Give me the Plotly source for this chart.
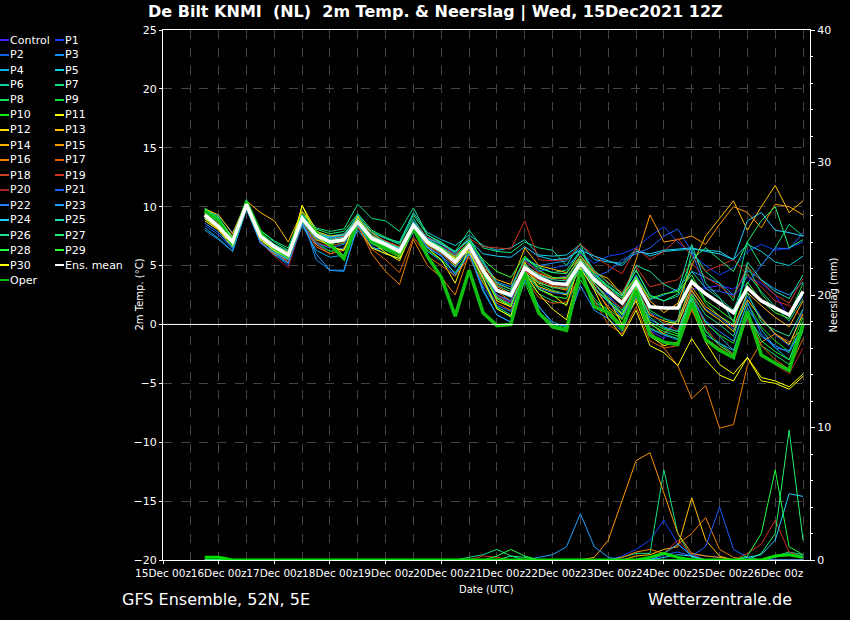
import pandas as pd
import plotly.graph_objects as go

times = pd.date_range("2021-12-15 18:00", periods=44, freq="6h")

ens_mean = [9.3,8.3,7.0,10.2,7.5,6.6,5.9,9.0,7.6,7.0,7.2,8.7,7.3,6.8,6.2,8.4,7.0,6.3,5.3,6.7,4.6,2.9,2.5,4.8,4.0,3.5,3.4,5.2,3.8,2.8,1.8,3.6,1.5,1.4,1.4,3.6,2.6,1.8,1.0,3.1,2.0,1.4,0.8,2.8]
oper = [9.6,8.8,6.8,10.4,7.8,6.5,5.8,9.0,7.8,6.8,5.6,8.8,7.0,6.5,6.0,8.2,5.8,4.0,0.7,4.6,1.0,-0.1,0.0,4.4,1.0,-0.2,-0.5,4.6,1.5,1.0,-0.3,2.9,-0.9,-1.5,-1.7,1.8,-1.3,-2.2,-2.8,1.1,-2.6,-3.3,-3.9,0.0]

t_control = [9.5,8.6,7.2,10.4,7.6,6.5,5.7,8.8,7.4,7.2,7.4,8.9,7.5,6.9,6.0,8.3,6.8,6.1,5.0,6.5,4.3,2.4,1.9,4.5,3.8,3.6,3.5,5.0,3.2,2.5,1.2,3.0,-0.5,-1.2,0.5,3.0,3.1,3.3,3.0,4.0,3.5,2.5,0.6,2.5]
t_p1 = [9.0,8.0,6.8,10.0,7.3,6.4,5.5,8.6,7.7,7.4,7.6,8.4,7.0,6.6,6.3,8.6,7.4,6.8,5.8,7.0,5.2,3.5,3.0,5.5,4.5,4.8,5.0,6.0,5.2,5.8,6.0,6.5,7.5,8.3,7.0,6.0,5.0,4.2,4.8,6.2,6.8,6.3,6.5,7.0]
t_p2 = [8.4,7.6,6.4,10.5,7.0,6.0,5.0,8.5,6.8,6.2,6.5,8.6,7.1,6.5,6.0,8.1,6.8,5.9,4.2,6.0,3.2,1.5,0.8,4.6,4.2,3.9,4.1,5.6,4.2,2.5,0.8,2.6,1.0,0.5,0.2,2.8,1.3,0.6,-0.4,2.4,0.6,-0.9,-1.8,1.2]
t_p3 = [9.7,9.2,7.8,10.0,7.8,6.8,6.1,9.2,5.5,4.6,4.5,8.5,6.5,6.4,6.2,8.8,7.4,6.9,6.0,7.2,5.4,3.6,3.2,5.5,5.0,5.2,5.4,6.5,4.5,3.0,2.2,4.2,2.1,2.5,3.0,4.5,4.0,3.5,2.5,4.6,3.8,3.0,2.5,3.6]
t_p4 = [8.2,7.3,6.2,9.8,7.0,5.9,5.2,8.4,6.3,5.7,5.9,8.0,6.6,6.0,5.6,7.9,6.2,5.4,4.1,6.1,2.8,0.8,0.2,4.4,1.5,0.2,-0.2,4.5,2.0,0.8,-0.3,3.0,-0.8,-1.5,-1.7,2.2,0.2,-1.0,-2.2,1.4,-0.4,-2.0,-3.0,-0.6]
t_p5 = [9.1,8.2,6.8,10.1,7.4,6.3,5.8,9.1,7.8,7.3,7.5,9.3,7.8,7.3,7.0,9.5,7.8,7.2,6.7,7.6,6.7,6.3,6.5,7.2,5.9,5.8,5.9,6.8,5.5,5.3,5.2,6.4,5.8,6.2,6.3,6.4,6.3,6.2,5.5,6.8,6.2,5.3,5.0,5.8]
t_p6 = [9.0,8.1,6.9,10.3,7.6,6.7,6.0,9.3,7.9,7.5,7.7,9.1,7.9,7.3,6.8,9.0,7.2,6.5,5.6,7.0,5.1,3.3,2.8,5.7,4.9,4.4,4.6,6.3,4.3,3.3,2.4,4.6,2.5,2.0,2.4,4.5,3.1,2.2,1.2,4.3,2.8,1.5,0.3,2.2]
t_p7 = [9.9,9.1,7.3,10.5,8.0,7.1,6.5,9.6,8.2,7.9,8.1,10.2,9.0,8.8,7.9,9.9,7.6,6.9,6.2,8.0,6.5,6.2,6.1,7.0,6.5,6.3,5.0,6.9,3.5,2.0,0.5,4.0,1.0,0.0,0.3,6.3,4.5,3.5,2.0,7.0,5.0,6.5,8.5,7.5]
t_p8 = [9.2,8.3,6.7,10.0,7.3,6.4,5.9,9.0,7.5,6.9,7.0,8.7,7.1,6.6,6.1,8.2,6.9,6.2,4.9,6.5,4.0,1.5,0.8,4.0,2.6,2.0,1.7,4.2,2.2,1.1,0.0,2.6,-0.3,-0.8,-1.2,2.0,-0.5,-1.6,-2.5,0.8,-1.8,-2.6,-3.4,-0.5]
t_p9 = [9.6,8.8,7.1,10.4,7.7,6.5,6.2,9.2,7.2,6.7,6.9,8.9,7.5,7.0,6.5,8.6,7.2,6.6,5.5,6.8,4.8,2.9,2.4,5.1,3.4,2.9,2.6,5.6,3.4,2.3,1.2,4.1,1.2,0.5,0.0,3.9,1.8,0.7,0.0,5.0,2.6,1.2,0.8,3.5]
t_p10 = [9.4,8.5,6.8,10.3,7.6,6.3,5.6,8.9,7.0,6.2,6.4,8.6,7.0,6.3,5.7,8.1,6.3,5.5,4.4,6.2,3.6,1.4,0.6,3.6,0.8,0.0,-0.3,3.8,1.9,1.3,0.4,3.2,0.2,-0.4,-0.8,2.5,0.1,-0.9,-1.6,1.8,-0.2,-1.4,-2.3,0.6]
t_p11 = [8.8,8.0,6.5,10.2,7.0,6.0,5.5,10.1,8.0,7.0,5.8,8.3,6.5,6.0,5.6,8.6,6.5,5.5,3.5,6.6,4.5,2.0,1.5,5.3,3.0,2.5,1.6,5.5,3.5,2.2,0.0,2.0,-1.0,-1.8,-1.5,1.4,-1.5,-3.4,-4.2,-2.8,-4.8,-5.0,-5.5,-4.4]
t_p12 = [9.5,8.7,7.3,10.2,7.4,6.3,5.7,8.9,7.3,6.9,7.1,8.8,7.0,6.5,6.0,8.2,6.7,6.0,5.0,6.5,4.2,2.2,1.5,4.5,3.2,2.8,2.5,4.8,3.0,1.9,0.9,3.0,0.8,0.3,0.0,2.9,1.2,0.4,-0.6,2.1,0.5,-0.8,-1.7,0.9]
t_p13 = [9.8,9.3,7.7,10.5,9.5,8.8,7.0,9.6,7.9,7.5,7.6,9.0,7.8,7.0,6.4,8.5,7.1,6.4,5.7,6.8,4.9,3.8,3.4,6.5,5.0,4.7,4.4,5.8,4.4,3.9,2.5,4.0,2.0,1.0,1.8,5.0,7.5,9.0,10.5,8.0,10.0,11.8,9.5,10.5]
t_p14 = [9.6,8.9,7.0,10.1,7.5,6.6,6.0,8.8,7.2,6.8,7.2,8.9,7.2,6.5,5.8,8.0,6.6,6.1,5.4,6.3,4.1,2.5,2.0,4.6,3.5,3.2,2.9,5.2,3.2,1.3,-0.2,2.2,0.1,-0.8,0.4,3.2,1.5,0.7,-0.2,2.7,1.6,0.6,-0.2,2.0]
t_p15 = [9.3,8.8,7.5,10.3,7.7,6.7,6.1,9.0,7.6,7.1,7.3,8.7,7.5,7.0,6.6,8.6,7.1,6.5,5.7,6.9,4.8,3.2,2.6,5.0,4.3,3.9,4.0,5.6,4.0,3.0,2.0,5.5,9.3,7.0,7.2,7.5,6.8,8.5,10.0,9.5,8.2,10.2,10.0,9.3]
t_p16 = [9.0,8.0,6.9,10.0,7.2,6.2,5.3,8.7,6.8,6.0,6.3,8.5,6.0,4.5,3.4,7.2,5.0,4.0,2.5,6.0,4.5,2.8,2.0,4.6,3.7,3.3,3.0,5.3,3.0,1.5,0.5,3.2,-0.5,-2.0,-3.5,-6.3,-5.2,-8.8,-8.5,-3.5,-1.5,-0.8,-1.5,-0.3]
t_p17 = [9.2,8.4,6.6,9.9,7.1,6.0,5.5,8.6,6.6,6.0,6.4,8.3,6.4,5.5,4.4,7.4,5.8,5.0,4.1,5.7,3.5,1.8,1.2,3.9,2.3,1.8,1.9,4.3,2.0,0.0,-0.8,1.5,-1.4,-2.0,-1.8,1.2,-1.2,-2.0,-2.7,1.0,-1.8,-3.0,-3.8,-1.2]
t_p18 = [9.4,8.6,7.0,10.2,7.5,6.5,5.6,8.9,7.6,7.1,7.3,8.6,7.2,6.8,6.2,8.3,6.9,6.4,5.8,6.9,5.0,3.4,3.0,5.4,4.4,4.0,3.8,5.9,4.5,3.6,2.7,4.9,3.2,3.5,3.8,5.2,4.0,3.3,2.3,4.9,3.7,2.5,1.8,3.9]
t_p19 = [9.1,8.2,6.7,10.3,7.4,6.4,5.8,9.0,7.7,7.2,7.5,9.0,7.6,7.1,6.6,8.7,7.4,6.8,5.9,7.3,6.6,6.5,6.4,8.8,5.5,5.4,5.5,6.8,5.8,5.0,4.3,6.5,5.5,6.2,7.3,5.8,4.5,5.0,5.5,4.2,3.2,2.0,1.6,0.6]
t_p20 = [9.3,8.5,6.8,10.2,7.0,5.8,4.8,8.6,7.0,6.6,7.0,8.5,7.2,6.6,6.0,8.1,6.7,6.0,5.1,6.5,4.2,2.4,1.8,4.6,3.8,3.3,3.2,5.1,3.4,2.2,1.4,3.3,0.9,0.2,-0.5,2.8,-0.2,-1.8,-2.5,0.5,-2.6,-3.4,-4.2,-2.0]
t_p21 = [9.2,8.7,7.1,10.1,7.5,6.4,5.7,8.8,7.3,6.9,7.2,8.8,7.4,6.9,6.3,8.5,7.0,6.4,5.4,6.7,4.6,2.5,2.0,4.9,4.1,3.6,3.5,5.4,4.0,4.5,5.5,6.0,6.5,7.5,8.1,6.2,3.0,2.8,2.5,3.5,5.0,6.5,6.4,7.8]
t_p22 = [8.6,7.8,6.5,9.9,7.0,6.1,5.2,8.5,6.9,6.5,6.8,8.4,7.0,6.4,5.9,8.1,6.6,5.8,4.8,6.3,3.9,1.6,1.1,4.2,3.1,2.7,2.6,4.9,3.0,1.9,0.6,2.8,0.4,-0.2,-0.6,2.2,0.3,-0.6,-1.4,1.9,-0.8,-2.0,-2.2,-0.4]
t_p23 = [8.0,7.2,6.2,9.8,6.9,6.1,5.5,8.7,6.0,4.6,4.6,8.4,6.8,6.4,6.0,8.3,6.5,5.8,4.3,6.0,3.0,0.8,0.2,3.8,1.6,0.0,-0.1,3.3,1.2,0.5,-0.6,2.4,-0.4,-0.9,-1.3,1.5,-0.9,-1.6,-2.2,0.6,-1.0,-1.8,-2.4,0.0]
t_p24 = [9.0,8.3,6.9,10.2,7.5,6.5,6.0,9.1,7.8,7.4,7.6,8.9,7.4,7.0,6.4,8.6,7.3,6.8,6.2,7.2,6.0,5.8,5.7,6.6,5.8,5.5,5.6,6.3,5.8,5.4,5.0,6.2,6.0,6.3,6.4,6.5,6.2,6.0,5.5,8.8,9.5,8.0,7.8,7.5]
t_p25 = [9.5,8.8,7.2,10.5,7.8,6.8,6.2,9.2,7.8,7.2,7.4,9.0,7.6,7.0,6.5,8.7,7.2,6.6,5.8,7.0,4.8,2.8,2.3,5.1,4.2,3.8,3.7,5.5,4.0,3.2,2.4,5.0,4.5,3.4,2.8,6.8,3.5,2.3,0.2,5.3,3.8,2.8,2.2,4.2]
t_p26 = [9.1,8.2,6.6,10.0,7.2,6.2,5.6,8.7,7.4,6.9,7.1,8.6,7.1,6.6,6.0,8.2,6.8,6.1,5.2,6.6,4.4,2.3,1.7,4.3,3.6,3.1,3.1,4.9,3.5,2.1,1.0,3.3,0.6,-0.3,-0.6,2.6,0.8,0.0,-1.0,2.7,0.2,-0.5,-1.0,1.3]
t_p27 = [9.7,9.0,7.4,10.6,8.0,7.0,6.3,9.4,8.1,7.7,7.9,9.4,8.0,7.4,6.9,9.3,7.6,7.0,6.1,7.4,5.3,3.5,3.0,5.6,4.8,4.4,4.3,6.2,4.6,3.5,2.6,4.6,2.4,2.0,2.6,5.5,6.5,5.5,4.5,7.0,8.8,10.0,6.5,7.2]
t_p28 = [9.8,9.0,7.1,10.3,7.7,6.6,5.9,9.0,7.6,7.0,7.1,8.7,7.3,6.8,6.3,8.5,7.0,6.3,5.2,6.9,4.3,2.2,1.6,4.4,3.0,2.4,2.2,5.3,3.1,2.0,0.8,3.3,0.0,-0.6,-1.0,2.3,-0.6,-1.8,-2.6,1.0,-1.4,-2.3,-3.0,0.2]
t_p29 = [9.3,8.4,6.9,10.1,7.4,6.5,5.8,8.9,7.5,7.0,7.2,8.8,7.4,6.9,6.3,8.4,7.1,6.5,5.6,7.1,5.5,4.5,4.0,5.8,4.6,4.0,3.9,5.8,4.2,3.2,2.2,4.0,2.2,2.6,2.8,4.2,2.0,1.2,0.3,3.6,2.0,1.0,0.5,2.6]
t_p30 = [9.0,8.1,6.7,9.9,7.2,6.3,5.7,10.1,7.5,6.6,6.3,9.2,7.0,6.1,5.4,8.2,6.8,6.2,5.6,6.2,3.9,1.3,0.7,4.4,2.6,1.3,0.4,4.8,2.9,0.5,-1.0,1.2,-1.8,-2.4,-3.5,-1.2,-3.0,-4.3,-4.8,-2.8,-4.5,-4.8,-5.3,-4.2]

# precipitation (mm) for members with visible rain
r_oper = [0.2,0.2,0.0,0,0,0,0,0,0,0,0,0,0,0,0,0,0,0,0,0,0,0,0,0,0,0,0,0,0,0,0,0,0.2,0.5,0.2,0,0,0,0,0,0,0.3,0.4,0.2]
r_p1 = [0,0,0,0,0,0,0,0,0,0,0,0,0,0,0,0,0,0,0,0,0,0,0,0,0,0,0,0,0,0,0.3,0.8,1.5,3.0,1.2,0.4,0.3,0.2,0,0,0,0.2,0.5,0.3]
r_p7 = [0,0,0,0,0,0,0,0,0,0,0,0,0,0,0,0,0,0,0,0.2,0.4,0.8,0.3,0,0,0,0,0,0,0,0.2,0.5,0.5,6.8,2.0,0.2,0,0,0,0,0,0.3,0.6,0.4]
r_p13 = [0,0,0,0,0,0,0,0,0,0,0,0,0,0,0,0,0,0,0,0,0,0,0,0,0,0,0,0,0,0,0,0.3,0.4,0.8,1.0,4.7,1.5,0.3,0,0,0,0,0,0]
r_p15 = [0,0,0,0,0,0,0,0,0,0,0,0,0,0,0,0,0,0,0,0,0,0,0,0,0,0,0,0,0.2,1.5,4.5,7.5,8.1,5.0,2.0,0.5,0.3,0.2,0,0,0,0,0,0]
r_p16 = [0,0,0,0,0,0,0,0,0,0,0,0,0,0,0,0,0,0,0,0,0,0,0,0,0,0,0,0,0,0,0.2,0.6,0.8,0.5,1.2,2.0,3.2,0.8,0.2,0,0,0,0,0]
r_p19 = [0,0,0,0,0,0,0,0,0,0,0,0,0,0,0,0,0,0,0,0,0.3,0.2,0,0,0,0,0,0,0,0,0,0,0,0.5,1.5,0.4,0,0,0,0.5,1.2,3.0,0.6,0.2]
r_p21 = [0,0,0,0,0,0,0,0,0,0,0,0,0,0,0,0,0,0,0,0,0,0,0,0,0,0,0,0,0,0,0,0,0,0.4,0.6,0.3,1.0,4.0,0.8,0.2,0,0,0,0]
r_p23 = [0,0,0,0,0,0,0,0,0,0,0,0,0,0,0,0,0,0,0,0,0,0,0,0,0.2,0.4,1.0,3.5,1.0,0.2,0,0,0,0.5,1.2,0.3,0,0,0,0,0,0,0,0]
r_p24 = [0,0,0,0,0,0,0,0,0,0,0,0,0,0,0,0,0,0,0,0,0,0,0,0,0,0,0,0,0,0,0,0,0,0.2,0.4,0.3,0,0,0,0.2,0.4,1.5,5.0,4.8]
r_p27 = [0,0,0,0,0,0,0,0,0,0,0,0,0,0,0,0,0,0,0,0,0,0,0.3,0.2,0,0,0,0,0,0,0,0,0,0,0,0,0,0,0,0,0.5,2.0,9.8,1.5]
r_p28 = [0,0,0,0,0,0,0,0,0,0,0,0,0,0,0,0,0,0,0,0,0,0.3,0.8,0.3,0,0,0,0,0,0,0,0,0,0,0,0,0,0,0,0.3,2.0,6.8,1.0,0.4]

member_names = ["Control"] + ["P%d" % i for i in range(1, 31)]
member_colors = ["#4020ff", "#1040ff", "#1060f0", "#1090ff", "#10b0e0", "#10d0e0", "#10d0a0",
                 "#10e080", "#10e060", "#10e040", "#10f010", "#ffff00", "#ffe000", "#ffc000",
                 "#ffb000", "#ff9900", "#f08000", "#e06000", "#d04020", "#d03020", "#b02020",
                 "#2060ff", "#2080ff", "#20a0ff", "#20d0ff", "#20e0b0", "#20e090", "#20f070",
                 "#20ff40", "#30ff30", "#ffff00"]
temps = [t_control, t_p1, t_p2, t_p3, t_p4, t_p5, t_p6, t_p7, t_p8, t_p9, t_p10, t_p11, t_p12,
         t_p13, t_p14, t_p15, t_p16, t_p17, t_p18, t_p19, t_p20, t_p21, t_p22, t_p23, t_p24,
         t_p25, t_p26, t_p27, t_p28, t_p29, t_p30]
rain = {1: r_p1, 7: r_p7, 13: r_p13, 15: r_p15, 16: r_p16, 19: r_p19, 21: r_p21,
        23: r_p23, 24: r_p24, 27: r_p27, 28: r_p28}

fig = go.Figure()

# precipitation on the right axis
for i, r in rain.items():
    fig.add_trace(go.Scatter(x=times, y=r, yaxis="y2", mode="lines",
                             line=dict(color=member_colors[i], width=1), showlegend=False))
fig.add_trace(go.Scatter(x=times, y=r_oper, yaxis="y2", mode="lines",
                         line=dict(color="#00dd00", width=3), showlegend=False))

# temperatures
for name, t, c in zip(member_names, temps, member_colors):
    fig.add_trace(go.Scatter(x=times, y=t, mode="lines", name=name,
                             line=dict(color=c, width=1), showlegend=False))
fig.add_trace(go.Scatter(x=times, y=oper, mode="lines", line=dict(color="#10c010", width=3.5),
                         showlegend=False))
fig.add_trace(go.Scatter(x=times, y=ens_mean, mode="lines", line=dict(color="white", width=3.5),
                         showlegend=False))

W, L, R, T, B = 850, 163, 40, 30, 60
pw = W - L - R
ph = 620 - T - B

def px(x):
    return (x - L) / pw

def py(y):
    return 1 - (y - T) / ph

ann = []
shapes = [dict(type="line", xref="paper", yref="y", x0=0, x1=1, y0=0, y1=0,
               line=dict(color="white", width=1))]
legend_items = list(zip(member_names, member_colors)) + [("Ens. mean", "white"), ("Oper", "#10c010")]
for k, (n, c) in enumerate(legend_items):
    row, col = divmod(k, 2)
    yp = py(40 + 15 * row)
    xl = 0 if col == 0 else 55
    shapes.append(dict(type="line", xref="paper", yref="paper", x0=px(xl), x1=px(xl + 9),
                       y0=yp, y1=yp, line=dict(color=c, width=2)))
    ann.append(dict(x=px(xl + 8), y=yp, xref="paper", yref="paper", text=n, showarrow=False,
                    xanchor="left", yanchor="middle", font=dict(size=11, color="white")))

ann += [
    dict(x=px(435), y=py(12), xref="paper", yref="paper", showarrow=False, yanchor="middle",
         text="<b>De Bilt KNMI  (NL)  2m Temp. & Neerslag | Wed, 15Dec2021 12Z</b>",
         font=dict(size=16, color="white")),
    dict(x=px(120), y=py(599), xref="paper", yref="paper", xanchor="left", yanchor="middle",
         showarrow=False, text="GFS Ensemble, 52N, 5E", font=dict(size=16, color="white")),
    dict(x=px(794), y=py(599), xref="paper", yref="paper", xanchor="right", yanchor="middle",
         showarrow=False, text="Wetterzentrale.de", font=dict(size=16, color="white")),
    dict(x=px(486), y=py(589), xref="paper", yref="paper", showarrow=False, yanchor="middle",
         text="Date (UTC)", font=dict(size=10, color="white")),
    dict(x=px(131), y=0.5, xref="paper", yref="paper", showarrow=False, textangle=-90,
         text="2m Temp. (°C)", font=dict(size=10, color="white")),
    dict(x=px(840), y=0.5, xref="paper", yref="paper", showarrow=False, textangle=-90,
         text="Neerslag (mm)", font=dict(size=10, color="white")),
]

tickvals = pd.date_range("2021-12-15", "2021-12-26", freq="D")
fig.update_layout(
    width=850, height=620, paper_bgcolor="black", plot_bgcolor="black",
    margin=dict(l=L, r=R, t=T, b=B),
    font=dict(family="DejaVu Sans", color="white", size=11),
    showlegend=False, annotations=ann, shapes=shapes,
    xaxis=dict(range=["2021-12-15 00:00", "2021-12-26 15:00"], tickvals=tickvals,
               ticktext=[d.strftime("%dDec 00z") for d in tickvals], tickangle=0,
               automargin=False,
               showgrid=True, gridcolor="#444", griddash="dash", gridwidth=1,
               minor=dict(dtick=12 * 3600 * 1000, showgrid=True, gridcolor="#444", griddash="dash"),
               showline=True, linecolor="white", mirror=True, ticks="outside", ticklen=3,
               tickcolor="white", zeroline=False, tickfont=dict(size=10.5)),
    yaxis=dict(range=[-20, 25], dtick=5, showgrid=True, gridcolor="#444", griddash="dash",
               automargin=False,
               showline=True, linecolor="white", ticks="outside", ticklen=3, tickcolor="white",
               zeroline=False, tickfont=dict(size=11)),
    yaxis2=dict(range=[0, 40], dtick=10, overlaying="y", side="right", showgrid=False,
                automargin=False,
                showline=True, linecolor="white", ticks="outside", ticklen=4, tickcolor="white",
                minor=dict(dtick=2, ticks="outside", ticklen=2, tickcolor="white"),
                zeroline=False, tickfont=dict(size=11)),
)

fig.write_html("out.html", config={"displayModeBar": False},
               post_script="document.body.style.margin='0';document.body.style.background='black';")
